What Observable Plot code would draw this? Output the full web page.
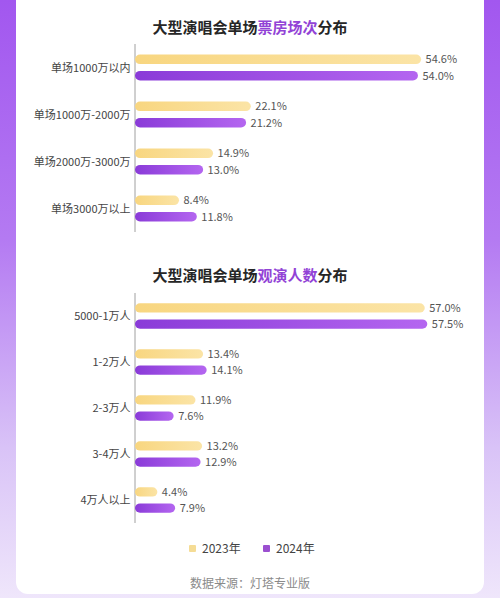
<!DOCTYPE html>
<html>
<head>
<meta charset="utf-8">
<script src="https://cdn.jsdelivr.net/npm/d3@7"></script>
<script src="https://cdn.jsdelivr.net/npm/@observablehq/plot@0.6"></script>
<style>
  html, body { margin: 0; padding: 0; }
  body {
    width: 500px; height: 598px; position: relative; overflow: hidden;
    background: linear-gradient(180deg, #a257ef 0%, #b47af2 40%, #d9c3f7 75%, #efe6fb 100%);
    font-family: "Noto Sans CJK SC", "Noto Sans", sans-serif;
  }
  #card {
    position: absolute; left: 16px; top: -12px; width: 468px; height: 606px;
    background: #fff; border-radius: 12px;
  }
  .title {
    position: absolute; left: 0; width: 500px; text-align: center;
    font-size: 15px; font-weight: bold; color: #262626;
  }
  .title span { color: #9243d6; }
  .chart { position: absolute; left: 0; width: 500px; }
  #legend {
    position: absolute; top: 538px; left: 0; width: 500px; height: 20px;
    font-size: 12px; color: #444;
  }
  .lg { position: absolute; top: 0; line-height: 20px; }
  .sw { display: inline-block; width: 7px; height: 7px; border-radius: 1px; margin-right: 6px; vertical-align: 1px; }
  #source {
    position: absolute; top: 574px; left: 0; width: 500px; text-align: center;
    font-size: 12px; color: #8a8a8a;
  }
</style>
</head>
<body>
<svg width="0" height="0" style="position:absolute">
  <defs>
    <linearGradient id="gY" x1="0" x2="1" y1="0" y2="0">
      <stop offset="0" stop-color="#f8d680"/>
      <stop offset="1" stop-color="#fbe4a6"/>
    </linearGradient>
    <linearGradient id="gP" x1="0" x2="1" y1="0" y2="0">
      <stop offset="0" stop-color="#8a3bd8"/>
      <stop offset="1" stop-color="#b466f0"/>
    </linearGradient>
  </defs>
</svg>
<div id="card"></div>
<div class="title" style="top:16px">大型演唱会单场<span>票房场次</span>分布</div>
<div class="chart" id="c1" style="top:40px"></div>
<div class="title" style="top:264px">大型演唱会单场<span>观演人数</span>分布</div>
<div class="chart" id="c2" style="top:285px"></div>
<div id="legend">
  <div class="lg" style="left:189px"><span class="sw" style="background:#f5dc95"></span>2023年</div>
  <div class="lg" style="left:263px"><span class="sw" style="background:#9b4fd0"></span>2024年</div>
</div>
<div id="source">数据来源：灯塔专业版</div>
<script>
const years = ["2023", "2024"];

const boxCategories = ["单场1000万以内", "单场1000万-2000万", "单场2000万-3000万", "单场3000万以上"];
const box2023 = [54.6, 22.1, 14.9, 8.4];
const box2024 = [54.0, 21.2, 13.0, 11.8];

const audCategories = ["5000-1万人", "1-2万人", "2-3万人", "3-4万人", "4万人以上"];
const aud2023 = [57.0, 13.4, 11.9, 13.2, 4.4];
const aud2024 = [57.5, 14.1, 7.6, 12.9, 7.9];

function rows(cats, a, b) {
  const out = [];
  cats.forEach((c, i) => {
    out.push({cat: c, year: "2023", value: a[i]});
    out.push({cat: c, year: "2024", value: b[i]});
  });
  return out;
}

function makeChart(cats, a, b, opts) {
  const data = rows(cats, a, b);
  return Plot.plot({
    width: 500,
    height: opts.height,
    marginTop: opts.marginTop,
    marginBottom: opts.marginBottom,
    marginLeft: 135,
    marginRight: opts.marginRight,
    style: {fontFamily: "'Noto Sans CJK SC', 'Noto Sans', sans-serif", fontSize: "11px", color: "#444", background: "transparent", overflow: "visible"},
    x: {domain: [0, 60], axis: null},
    y: {domain: years, axis: null, paddingInner: 0.42, paddingOuter: 0.64, round: false},
    fy: {domain: cats, padding: 0, axis: "left", tickSize: 0, tickPadding: 5, label: null},
    marks: [
      Plot.ruleX([0], {stroke: "#a0a0a0", strokeWidth: 1, dx: -0.5}),
      Plot.barX(data.filter(d => d.year === "2023"), {x: "value", y: "year", fy: "cat", fill: "url(#gY)", rx: 5}),
      Plot.barX(data.filter(d => d.year === "2024"), {x: "value", y: "year", fy: "cat", fill: "url(#gP)", rx: 5}),
      Plot.text(data, {x: "value", y: "year", fy: "cat", text: d => d.value.toFixed(1) + "%", textAnchor: "start", dx: 4, fill: "#555", fontSize: 11})
    ]
  });
}

document.getElementById("c1").append(makeChart(boxCategories, box2023, box2024, {height: 200, marginTop: 4, marginBottom: 8, marginRight: 50.6}));
document.getElementById("c2").append(makeChart(audCategories, aud2023, aud2024, {height: 245, marginTop: 6.6, marginBottom: 5, marginRight: 60}));
</script>
</body>
</html>
